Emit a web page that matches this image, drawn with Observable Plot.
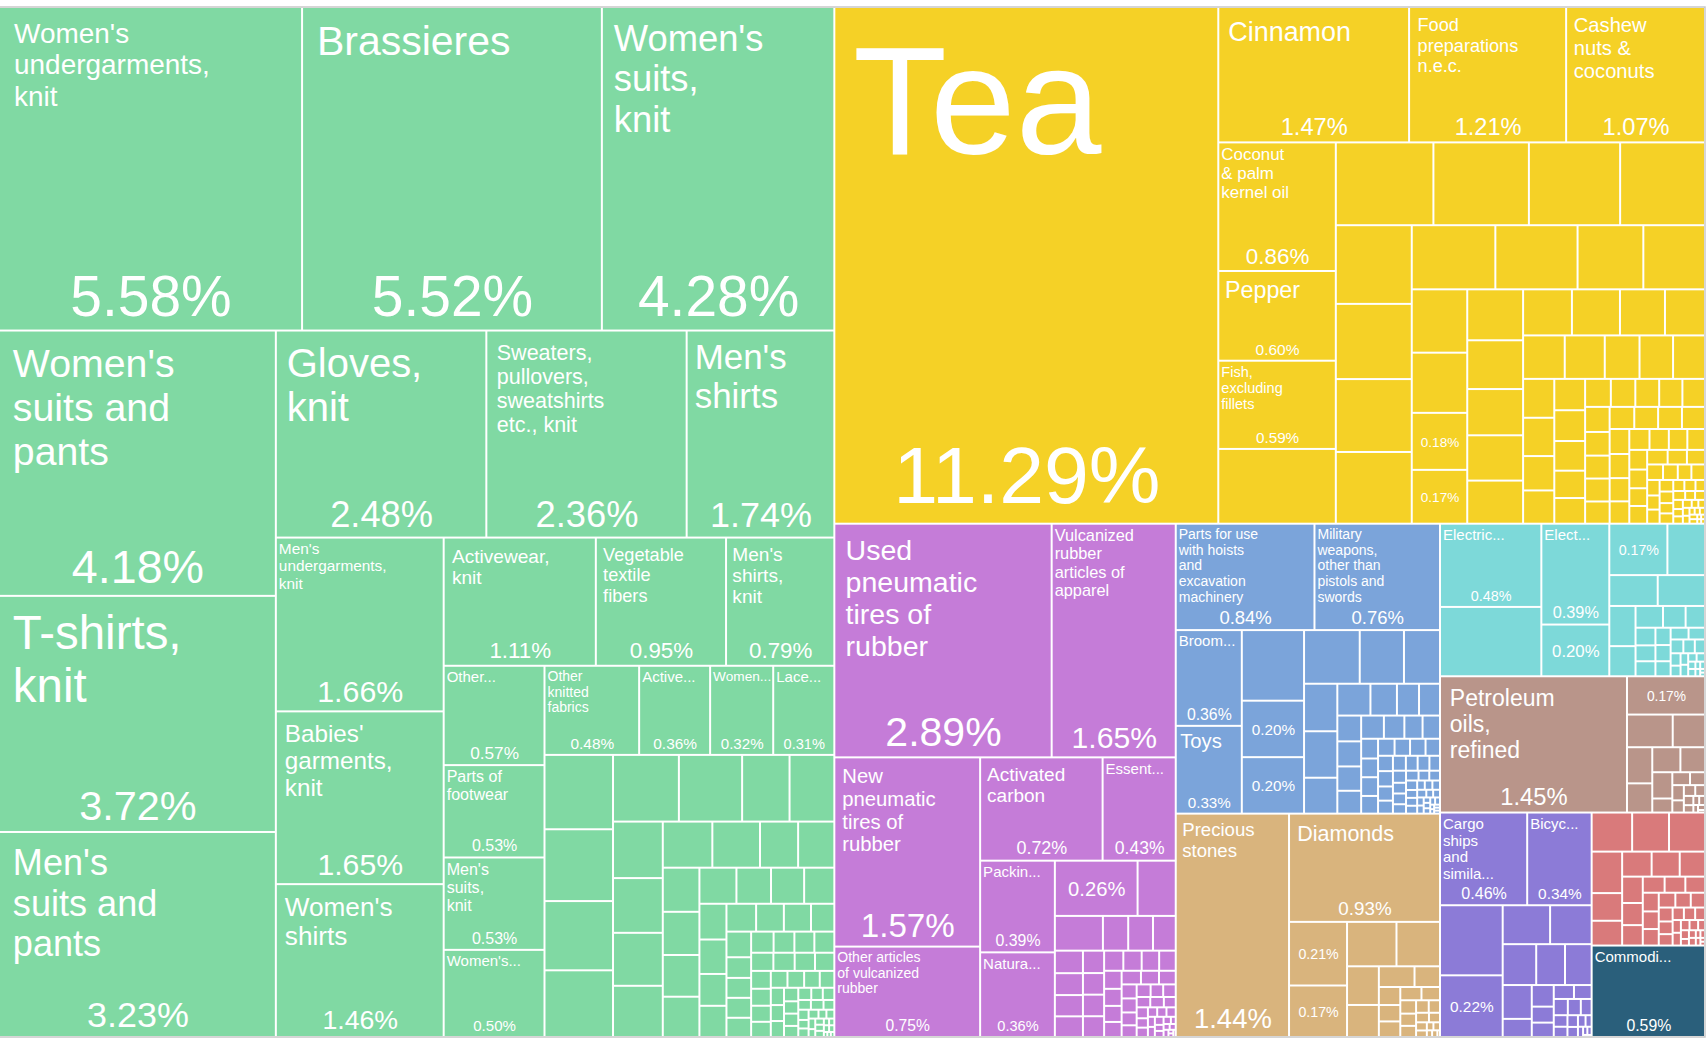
<!DOCTYPE html>
<html>
<head>
<meta charset="utf-8">
<script src="https://cdn.jsdelivr.net/npm/d3@7"></script>
<script src="https://cdn.jsdelivr.net/npm/@observablehq/plot@0.6"></script>
<style>
html, body { margin: 0; padding: 0; background: #ffffff; }
#chart svg { display: block; }
</style>
</head>
<body>
<div id="chart"></div>
<script>
// ---------- DATA (share of total exports, %) ----------
const sectorNames = ["Textiles", "Vegetable Products", "Plastics and Rubbers", "Machines", "Precious Metals", "Electrical", "Mineral Products", "Transportation", "Metals", "Miscellaneous"];
const sectorColors = ["#80d9a3", "#f5d126", "#c57cd8", "#7ba4da", "#d9b47d", "#7dd9d9", "#b9958a", "#8c7bd7", "#d97a7b", "#2a5f7b"];

const textileNames = ["Women's undergarments, knit", "Brassieres", "Women's suits, knit", "Women's suits and pants", "T-shirts, knit", "Men's suits and pants", "Gloves, knit", "Sweaters, pullovers, sweatshirts etc., knit", "Men's shirts", "Men's undergarments, knit", "Babies' garments, knit", "Women's shirts", "Activewear, knit", "Vegetable textile fibers", "Men's shirts, knit", "Other...", "Parts of footwear", "Men's suits, knit", "Women's...", "Other knitted fabrics", "Active...", "Women...", "Lace..."];
const textileValues = [5.58, 5.52, 4.28, 4.18, 3.72, 3.23, 2.48, 2.36, 1.74, 1.66, 1.65, 1.46, 1.11, 0.95, 0.79, 0.57, 0.53, 0.53, 0.50, 0.48, 0.36, 0.32, 0.31,
  0.29, 0.28, 0.27, 0.26, 0.25, 0.24, 0.18, 0.17, 0.16, 0.155, 0.15, 0.145, 0.13, 0.125, 0.1, 0.095, 0.092, 0.09, 0.087, 0.084, 0.076, 0.071, 0.068, 0.062, 0.055, 0.053, 0.049, 0.048, 0.047, 0.044, 0.043, 0.037, 0.036, 0.029, 0.028, 0.028, 0.027, 0.027,
  0.025, 0.024, 0.024, 0.023, 0.022, 0.021, 0.02, 0.02, 0.019, 0.018, 0.017, 0.016, 0.016, 0.015, 0.014, 0.013, 0.012, 0.012, 0.011, 0.01, 0.01, 0.009, 0.009, 0.008, 0.008, 0.007, 0.007, 0.006, 0.006, 0.005, 0.005, 0.005, 0.004, 0.004, 0.004, 0.003, 0.003, 0.003, 0.003, 0.002, 0.002, 0.002, 0.002, 0.001, 0.001, 0.001];

const vegNames = ["Tea", "Cinnamon", "Food preparations n.e.c.", "Cashew nuts & coconuts", "Coconut & palm kernel oil", "Pepper", "Fish, excluding fillets",
  null, null, null, null, null, null, null, null, null, null, null, null, null, null, null, "", ""];
const vegValues = [11.29, 1.47, 1.21, 1.07, 0.86, 0.60, 0.59, 0.50, 0.46, 0.45, 0.43, 0.40, 0.34, 0.325, 0.315, 0.31, 0.305, 0.30, 0.24, 0.225, 0.2, 0.19, 0.18, 0.17,
  0.162, 0.155, 0.147, 0.144, 0.137, 0.128, 0.126, 0.118, 0.105, 0.103, 0.099, 0.086, 0.083, 0.079, 0.069, 0.068, 0.061, 0.059, 0.055, 0.054, 0.052, 0.048, 0.045, 0.041, 0.039, 0.038, 0.037, 0.036, 0.035,
  0.033, 0.032, 0.032, 0.031, 0.031, 0.03, 0.03, 0.029, 0.028, 0.027, 0.026, 0.025, 0.024, 0.023, 0.022, 0.021, 0.02, 0.019, 0.018, 0.018, 0.017, 0.016, 0.015, 0.014, 0.013, 0.012, 0.012, 0.011, 0.01, 0.01, 0.009, 0.009, 0.008, 0.008, 0.007, 0.007, 0.006, 0.006, 0.005, 0.005, 0.005, 0.004, 0.004, 0.004, 0.003, 0.003, 0.003, 0.003, 0.002, 0.002, 0.002, 0.002, 0.002, 0.001, 0.001, 0.001, 0.001];

const rubberNames = ["Used pneumatic tires of rubber", "Vulcanized rubber articles of apparel", "New pneumatic tires of rubber", "Other articles of vulcanized rubber", "Activated carbon", "Essent...", "Packin...", "Natura...", ""];
const rubberValues = [2.89, 1.65, 1.57, 0.75, 0.72, 0.43, 0.39, 0.36, 0.26, 0.12, 0.095, 0.05, 0.049, 0.045, 0.036, 0.035, 0.034, 0.033, 0.027, 0.026, 0.026, 0.025,
  0.022, 0.021, 0.02, 0.019, 0.018, 0.017, 0.016, 0.015, 0.015, 0.014, 0.013, 0.012, 0.012, 0.011, 0.01, 0.01, 0.009, 0.009, 0.008, 0.008, 0.007, 0.007, 0.006, 0.006, 0.005, 0.005, 0.005, 0.004, 0.004, 0.004, 0.003, 0.003, 0.003, 0.002, 0.002, 0.002, 0.002, 0.001, 0.001, 0.001];

const machineNames = ["Parts for use with hoists and excavation machinery", "Military weapons, other than pistols and swords", "Broom...", "Toys", null, "", ""];
const machineValues = [0.84, 0.76, 0.36, 0.33, 0.25, 0.20, 0.20, 0.17, 0.135, 0.11, 0.09, 0.088, 0.068, 0.06, 0.048, 0.04, 0.038, 0.035, 0.034, 0.033, 0.031, 0.03, 0.027, 0.024, 0.023, 0.019,
  0.018, 0.018, 0.017, 0.016, 0.015, 0.015, 0.014, 0.013, 0.013, 0.012, 0.011, 0.011, 0.01, 0.01, 0.009, 0.009, 0.008, 0.008, 0.007, 0.007, 0.006, 0.006, 0.006, 0.005, 0.005, 0.005, 0.004, 0.004, 0.004, 0.004, 0.003, 0.003, 0.003, 0.003, 0.002, 0.002, 0.002, 0.002, 0.002, 0.001, 0.001, 0.001, 0.001, 0.001];

const stoneNames = ["Precious stones", "Diamonds", "", ""];
const stoneValues = [1.44, 0.93, 0.21, 0.17, 0.125, 0.11, 0.07, 0.058, 0.042, 0.03, 0.022, 0.02, 0.019, 0.016, 0.014, 0.012, 0.011, 0.01, 0.009, 0.008, 0.007, 0.006, 0.005, 0.004, 0.003, 0.003, 0.002, 0.002, 0.001];

const electricNames = ["Electric...", null, "Elect...", "", ""];
const electricValues = [0.48, 0.40, 0.39, 0.20, 0.17, 0.11, 0.085, 0.083, 0.06, 0.045, 0.034, 0.028, 0.024, 0.02, 0.018, 0.017, 0.015, 0.014, 0.013, 0.012, 0.011, 0.01, 0.009, 0.008, 0.007, 0.006, 0.005, 0.005, 0.004, 0.004, 0.003, 0.003, 0.002, 0.002, 0.002, 0.001, 0.001];

const mineralNames = ["Petroleum oils, refined", ""];
const mineralValues = [1.45, 0.17, 0.085, 0.06, 0.052, 0.042, 0.04, 0.035, 0.03, 0.016, 0.013, 0.011, 0.01, 0.008, 0.007, 0.006, 0.005, 0.004, 0.003, 0.003, 0.002, 0.002, 0.001];

const transportNames = ["Cargo ships and simila...", "Bicyc...", null, ""];
const transportValues = [0.46, 0.34, 0.25, 0.22, 0.105, 0.092, 0.078, 0.067, 0.062, 0.056, 0.03, 0.027, 0.02, 0.018, 0.016, 0.014, 0.013, 0.012, 0.01, 0.009, 0.008, 0.007, 0.006, 0.005, 0.004, 0.003, 0.002, 0.002, 0.001];

const metalNames = [];
const metalValues = [0.09, 0.082, 0.08, 0.072, 0.048, 0.043, 0.042, 0.04, 0.036, 0.031, 0.026, 0.024, 0.02, 0.019, 0.018, 0.017, 0.016, 0.015, 0.014, 0.013, 0.012, 0.011, 0.01, 0.009, 0.008, 0.008, 0.007, 0.006, 0.006, 0.005, 0.005, 0.004, 0.004, 0.003, 0.003, 0.003, 0.002, 0.002, 0.002, 0.001, 0.001];

const miscNames = ["Commodi..."];
const miscValues = [0.59];

// ---------- BUILD HIERARCHY ----------
const sectorNameArrays = [textileNames, vegNames, rubberNames, machineNames, stoneNames, electricNames, mineralNames, transportNames, metalNames, miscNames];
const sectorValueArrays = [textileValues, vegValues, rubberValues, machineValues, stoneValues, electricValues, mineralValues, transportValues, metalValues, miscValues];

const tree = {
  children: sectorNames.map((s, i) => ({
    sector: s,
    color: sectorColors[i],
    children: sectorValueArrays[i].map((v, j) => ({
      name: j < sectorNameArrays[i].length ? sectorNameArrays[i][j] : null,
      value: v,
      color: sectorColors[i]
    }))
  }))
};

const TOP = 8, TW = 1704, TH = 1028;
const root = d3.hierarchy(tree)
  .sum(d => d.children ? 0 : d.value)
  .sort((a, b) => b.value - a.value);
d3.treemap()
  .tile(d3.treemapSquarify.ratio(1))
  .size([TW, TH])
  .paddingInner(2)
  .round(false)(root);

const cells = root.leaves().map(l => ({
  x0: l.x0, x1: l.x1, y0: l.y0 + TOP, y1: l.y1 + TOP,
  color: l.data.color, name: l.data.name, value: l.data.value
}));
const frame = [{x0: root.x0 - 1, x1: root.x1 + 1, y0: root.y0 + TOP - 1, y1: root.y1 + TOP + 1}];

// ---------- LABELS ----------
const FONT = '"Liberation Sans", Arial, Helvetica, sans-serif';
const ctx = document.createElement("canvas").getContext("2d");
ctx.font = '100px "Liberation Sans", Arial, sans-serif';
const emCache = new Map();
function em(s) {
  if (!emCache.has(s)) emCache.set(s, ctx.measureText(s).width / 100);
  return emCache.get(s);
}
function wrap(words, f, maxW) {
  const lines = [];
  let cur = "";
  for (const w of words) {
    const t = cur ? cur + " " + w : w;
    if (!cur || em(t) * f <= maxW) cur = t;
    else { lines.push(cur); cur = w; }
  }
  if (cur) lines.push(cur);
  return lines;
}

const LH = 1.12;
const nameLines = [], shareLabels = [];
for (const c of cells) {
  if (c.name == null) continue;
  const W = c.x1 - c.x0, H = c.y1 - c.y0;
  if (W < 8 || H < 8) continue;
  const share = c.value.toFixed(2) + "%";
  if (c.name === "") {
    const fs = Math.min(0.72 * W / em(share), 0.38 * H);
    shareLabels.push({x: (c.x0 + c.x1) / 2, y: (c.y0 + c.y1) / 2 + 0.36 * fs, text: share, fs});
    continue;
  }
  const fs = Math.min(0.177 * H, 0.7 * W / em(share));
  const truncated = c.name.endsWith("...");
  const words = c.name.split(" ");
  const longest = d3.max(words, w => em(w));
  let f;
  if (truncated) f = Math.min(15, (W - 3) / longest);
  else f = Math.max(Math.min(0.65 * W / longest, 0.7 * Math.sqrt(W * H / c.name.length)), Math.min(14, (W - 4) / longest));
  let lines, pad, top;
  for (let k = 0; k < 40; k++) {
    pad = f > 17 ? Math.min(0.045 * W, 18) : 1.5;
    top = Math.min(pad, 10);
    lines = wrap(words, f, Math.max(0.6 * W, longest * f));
    if (top + lines.length * f * LH + fs * 1.25 <= H || f <= 11) break;
    f *= 0.95;
  }
  const maxLines = Math.max(1, Math.floor((H - top - fs * 1.25) / (f * LH)));
  lines = lines.slice(0, maxLines);
  lines.forEach((t, i) => nameLines.push({x: c.x0 + pad, y: c.y0 + top + 0.88 * f + i * f * LH, text: t, fs: f}));
  shareLabels.push({x: (c.x0 + c.x1) / 2, y: c.y1 - (0.22 * fs + 2), text: share, fs});
}

// ---------- PLOT ----------
const chart = Plot.plot({
  width: 1708,
  height: 1044,
  margin: 0,
  axis: null,
  x: {type: "identity"},
  y: {type: "identity"},
  color: {type: "identity"},
  style: {background: "#ffffff"},
  marks: [
    Plot.rect(frame, {x1: "x0", x2: "x1", y1: "y0", y2: "y1", fill: "none", stroke: "#c8c8c8", strokeWidth: 1.5}),
    Plot.rect(cells, {x1: "x0", x2: "x1", y1: "y0", y2: "y1", fill: "color"}),
    Plot.text(nameLines, {x: "x", y: "y", text: "text", fontSize: d => d.fs, textAnchor: "start", lineAnchor: "bottom", fill: "white", fontFamily: FONT}),
    Plot.text(shareLabels, {x: "x", y: "y", text: "text", fontSize: d => d.fs, textAnchor: "middle", lineAnchor: "bottom", fill: "white", fontFamily: FONT})
  ]
});
document.getElementById("chart").appendChild(chart);
</script>
</body>
</html>
